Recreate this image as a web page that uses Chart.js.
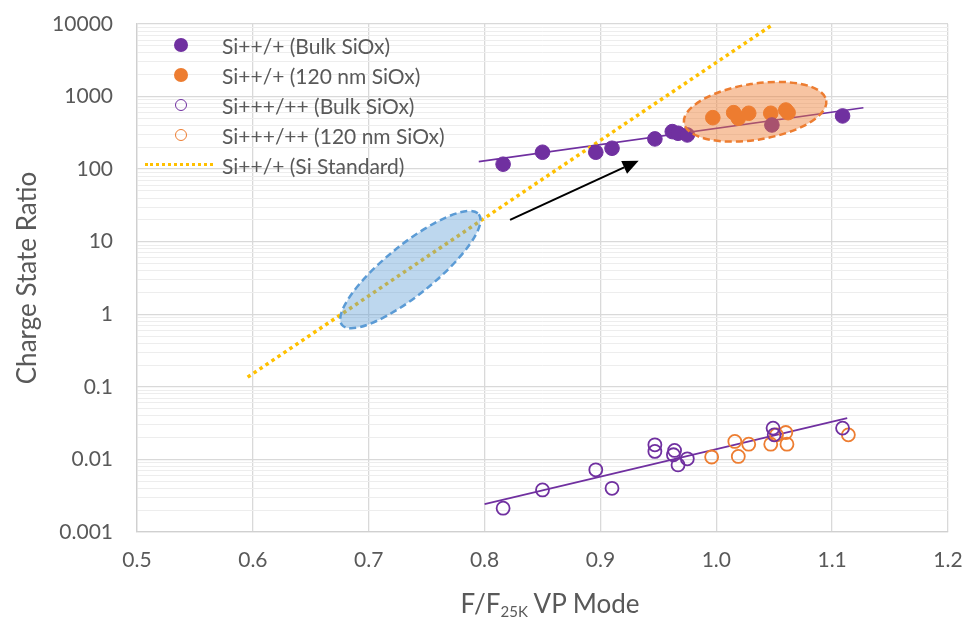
<!DOCTYPE html>
<html>
<head>
<meta charset="utf-8">
<script src="https://cdn.jsdelivr.net/npm/chart.js@4.4.1/dist/chart.umd.min.js"></script>
<style>
  body { margin: 0; background: #fff; }
  #marco { position: relative; width: 967px; height: 617px; overflow: hidden; font-family: Lato, sans-serif; color: #595959; }
  #grafico { position: absolute; left: 0; top: 0; }
  #leyenda { position: absolute; left: 145px; top: 30px; font-size: 21px; }
  .fila { height: 30px; display: flex; align-items: center; }
  .marca { width: 70px; height: 30px; position: relative; }
  .marca span { position: absolute; }
  .texto { margin-left: 7px; white-space: nowrap; }
  #tituloX { position: absolute; left: 350px; width: 400px; text-align: center; top: 587px; font-size: 26px; white-space: nowrap; }
  #tituloX sub { font-size: 15px; vertical-align: -4px; }
</style>
</head>
<body>
<div id="marco">
  <canvas id="grafico" width="967" height="617"></canvas>
  <div id="leyenda"></div>
  <div id="tituloX">F/F<sub>25K</sub> VP Mode</div>
</div>
<script>
// === DATOS ===
const xTicks = [0.5, 0.6, 0.7, 0.8, 0.9, 1.0, 1.1, 1.2];
const yTicks = [0.001, 0.01, 0.1, 1, 10, 100, 1000, 10000];

// Si++/+ (Bulk SiOx)
const xBulk2 = [0.816, 0.850, 0.896, 0.910, 0.947, 0.962, 0.967, 0.975, 1.048, 1.109];
const yBulk2 = [117, 171, 171, 194, 261, 329, 312, 296, 406, 541];
// Si++/+ (120 nm SiOx)
const xFilm2 = [0.997, 1.015, 1.019, 1.028, 1.047, 1.060, 1.062];
const yFilm2 = [512, 600, 503, 589, 589, 653, 600];
// Si+++/++ (Bulk SiOx)
const xBulk3 = [0.816, 0.850, 0.896, 0.910, 0.947, 0.947, 0.964, 0.963, 0.967, 0.975, 1.049, 1.050, 1.109];
const yBulk3 = [0.00213, 0.0038, 0.0072, 0.0040, 0.0159, 0.0129, 0.0133, 0.0116, 0.0084, 0.0102, 0.027, 0.0218, 0.027];
// Si+++/++ (120 nm SiOx)
const xFilm3 = [0.996, 1.016, 1.019, 1.028, 1.047, 1.052, 1.060, 1.061, 1.114];
const yFilm3 = [0.0108, 0.0177, 0.011, 0.0162, 0.0162, 0.0218, 0.0235, 0.0162, 0.0218];
// Si++/+ (Si Standard)
const xEstandar = [0.5955, 1.0495];
const yEstandar = [0.136, 10000];
// lineas de tendencia
const xTend2 = [0.795, 1.127];
const yTend2 = [127, 703];
const xTend3 = [0.800, 1.113];
const yTend3 = [0.00242, 0.0371];

// === ANOTACIONES (elipses y flecha) ===
const elipses = [
  { x: 0.736, y: 4.13, rx: 88, ry: 25, rot: -39, fill: 'rgba(91,155,213,0.40)', stroke: '#5B9BD5' },
  { x: 1.0335, y: 618, rx: 72, ry: 28, rot: -9, fill: 'rgba(237,125,49,0.45)', stroke: '#ED7D31' }
];
const flecha = { x1: 0.822, y1: 20, x2: 0.933, y2: 131 };

const MORADO = '#7030A0';
const NARANJA = '#ED7D31';
const AMARILLO = '#FFC000';

function puntos(xs, ys) {
  return xs.map((x, i) => ({ x, y: ys[i] }));
}

const anotaciones = {
  id: 'anotaciones',
  afterDatasetsDraw(chart) {
    const { ctx, chartArea, scales: { x, y } } = chart;
    ctx.save();
    ctx.beginPath();
    ctx.rect(chartArea.left, chartArea.top, chartArea.right - chartArea.left, chartArea.bottom - chartArea.top);
    ctx.clip();
    elipses.forEach(e => {
      const cx = x.getPixelForValue(e.x);
      const cy = y.getPixelForValue(e.y);
      ctx.beginPath();
      ctx.ellipse(cx, cy, e.rx, e.ry, e.rot * Math.PI / 180, 0, 2 * Math.PI);
      ctx.fillStyle = e.fill;
      ctx.fill();
      ctx.setLineDash([7, 4]);
      ctx.lineWidth = 2.5;
      ctx.strokeStyle = e.stroke;
      ctx.stroke();
    });
    // flecha negra
    const ax = x.getPixelForValue(flecha.x1), ay = y.getPixelForValue(flecha.y1);
    const bx = x.getPixelForValue(flecha.x2), by = y.getPixelForValue(flecha.y2);
    const ang = Math.atan2(by - ay, bx - ax);
    const largo = 16, ancho = 7;
    ctx.setLineDash([]);
    ctx.strokeStyle = '#000';
    ctx.lineWidth = 2;
    ctx.beginPath();
    ctx.moveTo(ax, ay);
    ctx.lineTo(bx - largo * Math.cos(ang), by - largo * Math.sin(ang));
    ctx.stroke();
    ctx.beginPath();
    ctx.moveTo(bx, by);
    ctx.lineTo(bx - largo * Math.cos(ang) + ancho * Math.sin(ang), by - largo * Math.sin(ang) - ancho * Math.cos(ang));
    ctx.lineTo(bx - largo * Math.cos(ang) - ancho * Math.sin(ang), by - largo * Math.sin(ang) + ancho * Math.cos(ang));
    ctx.closePath();
    ctx.fillStyle = '#000';
    ctx.fill();
    ctx.restore();
  }
};

Chart.defaults.font.family = 'Lato, sans-serif';
Chart.defaults.color = '#595959';

const datasets = [
  { label: 'Si++/+ (Bulk SiOx)', data: puntos(xBulk2, yBulk2), backgroundColor: MORADO, borderColor: MORADO, pointRadius: 7.3, order: 1, enLeyenda: 'lleno' },
  { label: 'Si++/+ (120 nm SiOx)', data: puntos(xFilm2, yFilm2), backgroundColor: NARANJA, borderColor: NARANJA, pointRadius: 7.3, order: 1, enLeyenda: 'lleno' },
  { label: 'Si+++/++ (Bulk SiOx)', data: puntos(xBulk3, yBulk3), backgroundColor: 'rgba(0,0,0,0)', borderColor: MORADO, pointRadius: 6.5, pointBorderWidth: 1.8, order: 1, enLeyenda: 'hueco' },
  { label: 'Si+++/++ (120 nm SiOx)', data: puntos(xFilm3, yFilm3), backgroundColor: 'rgba(0,0,0,0)', borderColor: NARANJA, pointRadius: 6.5, pointBorderWidth: 1.8, order: 1, enLeyenda: 'hueco' },
  { label: 'Si++/+ (Si Standard)', data: puntos(xEstandar, yEstandar), showLine: true, borderColor: AMARILLO, borderWidth: 3.5, borderDash: [3.5, 3.7], pointRadius: 0, order: 2, enLeyenda: 'linea' },
  { label: 'tendencia2', data: puntos(xTend2, yTend2), showLine: true, borderColor: MORADO, borderWidth: 1.6, pointRadius: 0, order: 2 },
  { label: 'tendencia3', data: puntos(xTend3, yTend3), showLine: true, borderColor: MORADO, borderWidth: 1.6, pointRadius: 0, order: 2 }
];

const grafico = new Chart(document.getElementById('grafico'), {
  type: 'scatter',
  data: { datasets },
  options: {
    responsive: false,
    animation: false,
    events: [],
    layout: { padding: { top: 24, right: 19, left: 0, bottom: 0 } },
    plugins: { legend: { display: false }, tooltip: { enabled: false } },
    scales: {
      x: {
        type: 'linear',
        min: 0.5,
        max: 1.2,
        afterBuildTicks: s => { s.ticks = xTicks.map(v => ({ value: v })); },
        afterFit: s => { s.height = 85; s.paddingLeft = 0; s.paddingRight = 0; },
        ticks: { callback: v => v.toFixed(1), font: { size: 21 }, padding: 16, autoSkip: false, maxRotation: 0 },
        grid: { color: '#d9d9d9', lineWidth: 1.3, drawTicks: false },
        border: { color: '#d0d0d0', width: 1.3 }
      },
      y: {
        type: 'logarithmic',
        min: 0.001,
        max: 10000,
        afterBuildTicks: s => {
          const t = [];
          yTicks.forEach(v => {
            for (let m = 1; m < 10; m++) {
              if (v * m <= 10000) t.push({ value: v * m });
            }
          });
          s.ticks = t;
        },
        afterFit: s => { s.width = 137; s.paddingTop = 0; s.paddingBottom = 0; },
        ticks: { callback: v => (yTicks.includes(v) ? String(v) : ''), font: { size: 21 }, padding: 24, autoSkip: false },
        grid: {
          color: c => (yTicks.includes(c.tick.value) ? '#d9d9d9' : '#ededed'),
          lineWidth: c => (yTicks.includes(c.tick.value) ? 1.3 : 1),
          drawTicks: false
        },
        border: { color: '#d0d0d0', width: 1.3 },
        title: { display: true, text: 'Charge State Ratio', font: { size: 26 }, padding: { top: 12, bottom: 0 } }
      }
    }
  },
  plugins: [anotaciones]
});

// === LEYENDA ===
const leyenda = document.getElementById('leyenda');
datasets.filter(d => d.enLeyenda).forEach(d => {
  const fila = document.createElement('div');
  fila.className = 'fila';
  const marca = document.createElement('div');
  marca.className = 'marca';
  const s = document.createElement('span');
  if (d.enLeyenda === 'linea') {
    s.style.cssText = `left:0;top:13px;width:68px;height:0;border-top:3.5px dotted ${d.borderColor};`;
  } else if (d.enLeyenda === 'lleno') {
    s.style.cssText = `left:29px;top:8px;width:14px;height:14px;border-radius:50%;background:${d.backgroundColor};`;
  } else {
    s.style.cssText = `left:30px;top:9px;width:10px;height:10px;border-radius:50%;border:1.8px solid ${d.borderColor};`;
  }
  marca.appendChild(s);
  const texto = document.createElement('div');
  texto.className = 'texto';
  texto.textContent = d.label;
  fila.appendChild(marca);
  fila.appendChild(texto);
  leyenda.appendChild(fila);
});
</script>
</body>
</html>
